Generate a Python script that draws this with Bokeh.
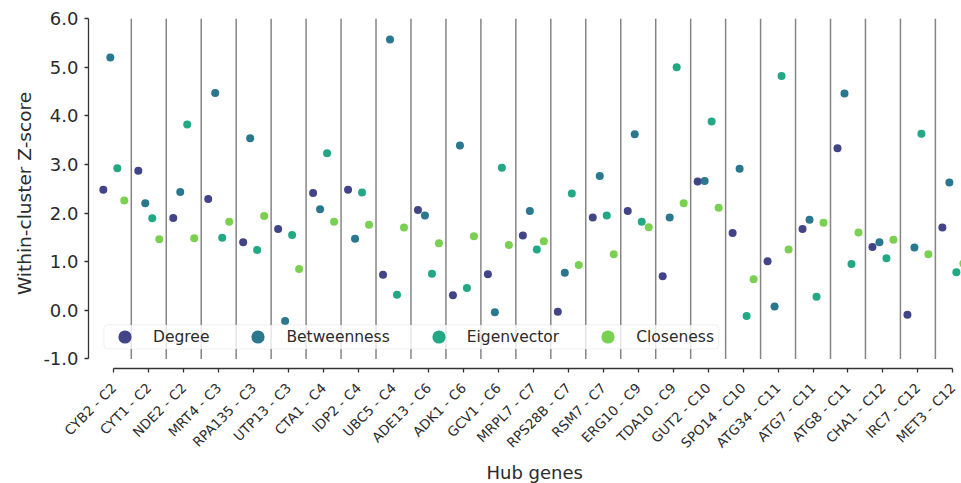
import numpy as np
from math import pi
from bokeh.plotting import figure
from bokeh.models import FixedTicker, Legend, LegendItem, BoxAnnotation, Title
from bokeh.embed import file_html
from bokeh.resources import INLINE

# ---------------- data ----------------
genes = ["CYB2", "CYT1", "NDE2", "MRT4", "RPA135", "UTP13", "CTA1", "IDP2", "UBC5",
         "ADE13", "ADK1", "GCV1", "MRPL7", "RPS28B", "RSM7", "ERG10", "TDA10", "GUT2",
         "SPO14", "ATG34", "ATG7", "ATG8", "CHA1", "IRC7", "MET3"]
clusters = ["C2", "C2", "C2", "C3", "C3", "C3", "C4", "C4", "C4", "C6", "C6", "C6",
            "C7", "C7", "C7", "C9", "C9", "C10", "C10", "C11", "C11", "C11", "C12", "C12", "C12"]

degree = [2.48, 2.87, 1.90, 2.29, 1.40, 1.67, 2.41, 2.48, 0.73, 2.06, 0.31, 0.74, 1.54,
          -0.03, 1.91, 2.04, 0.70, 2.65, 1.59, 1.01, 1.67, 3.33, 1.30, -0.09, 1.70]
betweenness = [5.20, 2.20, 2.43, 4.47, 3.54, -0.22, 2.08, 1.47, 5.57, 1.95, 3.39, -0.04, 2.04,
               0.77, 2.76, 3.62, 1.91, 2.66, 2.91, 0.08, 1.86, 4.46, 1.40, 1.29, 2.63]
eigenvector = [2.92, 1.89, 3.82, 1.49, 1.24, 1.55, 3.23, 2.42, 0.32, 0.75, 0.46, 2.93, 1.25,
               2.40, 1.95, 1.82, 5.00, 3.88, -0.12, 4.82, 0.28, 0.95, 1.07, 3.63, 0.78]
closeness = [2.26, 1.46, 1.48, 1.82, 1.94, 0.85, 1.82, 1.76, 1.70, 1.38, 1.52, 1.34, 1.42,
             0.93, 1.15, 1.71, 2.20, 2.11, 0.64, 1.25, 1.80, 1.60, 1.45, 1.15, 0.96]

series_names = ["Degree", "Betweenness", "Eigenvector", "Closeness"]
series_colors = ["#414487", "#2a788e", "#22a884", "#7ad151"]
dodge = [-0.3, -0.1, 0.1, 0.3]

y_ticks = [-1, 0, 1, 2, 3, 4, 5, 6]
y_tick_labels = ["-1.0", "0.0", "1.0", "2.0", "3.0", "4.0", "5.0", "6.0"]

# ---------------- figure ----------------
n = len(genes)
x_idx = np.arange(n)
x_labels = [f"{g} - {c}" for g, c in zip(genes, clusters)]

TEXT = "#2b2b2b"
FONT = "DejaVu Sans"

p = figure(width=961, height=483, output_backend="svg", toolbar_location=None,
           x_range=(-0.724, 24.247), y_range=(-1.197, 6.0),
           min_border_left=88, min_border_right=0, min_border_top=18, min_border_bottom=115)
p.outline_line_color = None
p.grid.visible = False
p.background_fill_color = "white"
p.border_fill_color = "white"

# cluster separators
seps = x_idx[:-1] + 0.5
p.segment(x0=seps, y0=[y_ticks[0]] * len(seps), x1=seps, y1=[y_ticks[-1]] * len(seps),
          line_color="#858585", line_width=1.5)

series = [degree, betweenness, eigenvector, closeness]
renderers = []
for vals, name, col, off in zip(series, series_names, series_colors, dodge):
    r = p.scatter(x=x_idx + off, y=vals, size=8, fill_color=col, line_color=None)
    renderers.append(r)

# legend frame
box = BoxAnnotation(left=-0.286, right=17.306, top=-0.30, bottom=-0.794,
                    fill_color="white", fill_alpha=0.8,
                    line_color="#cccccc", line_width=1, border_radius=4)
p.add_layout(box)

legend = Legend(items=[LegendItem(label=nm, renderers=[r]) for nm, r in zip(series_names, renderers)],
                orientation="horizontal", location=(20, 15),
                glyph_width=33, glyph_height=33, padding=0, spacing=32, label_standoff=12,
                label_text_font=FONT, label_text_font_size="15.5px", label_text_color=TEXT,
                border_line_color=None, background_fill_alpha=0, margin=0)
p.add_layout(legend)

# y axis
ya = p.yaxis[0]
ya.ticker = FixedTicker(ticks=y_ticks)
ya.major_label_overrides = {t: s for t, s in zip(y_ticks, y_tick_labels)}
ya.bounds = (y_ticks[0], y_ticks[-1])
ya.axis_label = "Within-cluster Z-score"
ya.axis_label_text_font = FONT
ya.axis_label_text_font_size = "18.5px"
ya.axis_label_text_font_style = "normal"
ya.axis_label_text_color = TEXT
ya.axis_label_standoff = 5
ya.major_label_text_font = FONT
ya.major_label_text_font_size = "18px"
ya.major_label_text_color = TEXT
ya.major_label_standoff = 6

# x axis
xa = p.xaxis[0]
xa.ticker = FixedTicker(ticks=list(x_idx))
xa.major_label_overrides = {int(i): s for i, s in zip(x_idx, x_labels)}
xa.major_label_orientation = pi / 4
xa.bounds = (0, n - 1)
xa.major_label_text_font = FONT
xa.major_label_text_font_size = "13.5px"
xa.major_label_text_color = TEXT
xa.major_label_standoff = 13

for ax in (xa, ya):
    ax.axis_line_color = "#333333"
    ax.axis_line_width = 1.3
    ax.major_tick_line_color = "#333333"
    ax.major_tick_line_width = 1.3
    ax.major_tick_out = 4
    ax.major_tick_in = 0
    ax.minor_tick_line_color = None

# x axis title, centred on the full axes (which extend past the right edge)
xtitle = Title(text="Hub genes", align="left", offset=398, standoff=0,
               text_font=FONT, text_font_size="18px", text_font_style="normal",
               text_color=TEXT)
p.add_layout(xtitle, "below")

open("out.html", "w").write(file_html(p, INLINE))
